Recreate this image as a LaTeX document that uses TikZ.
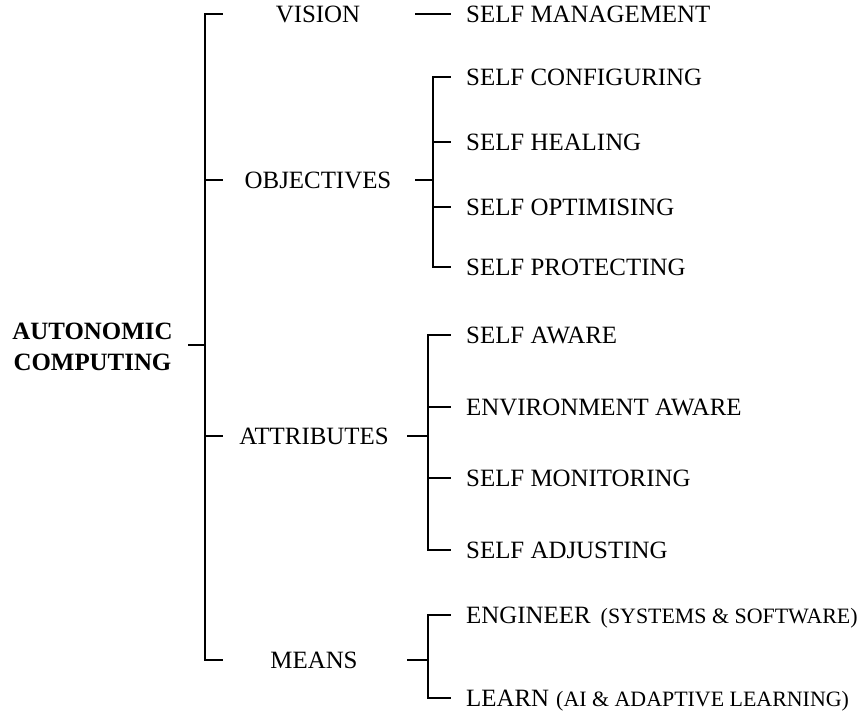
\documentclass[tikz,border=0pt]{standalone}
\usepackage{fontspec}
\setmainfont{Liberation Serif}
\begin{document}
\begin{tikzpicture}[x=1bp,y=-1bp,
  lbl/.style={anchor=base west, inner sep=0pt, font=\fontsize{25}{30}\selectfont},
  midlbl/.style={anchor=base, inner sep=0pt, font=\fontsize{25}{30}\selectfont},
  rootlbl/.style={anchor=base, inner sep=0pt, font=\fontsize{25}{30}\selectfont\bfseries},
  small/.style={font=\fontsize{22}{26}\selectfont},
  conn/.style={line width=1.2bp, line cap=rect},
  stub/.style={line width=1.8bp}]
\useasboundingbox (0,0) rectangle (865,712);

% root
\node[rootlbl] (root1) at (92.5,339.3) {AUTONOMIC};
\node[rootlbl] (root2) at (92.5,370.3) {COMPUTING};

% level 1
\node[midlbl] (vision) at (318,22.3) {VISION};
\node[midlbl] (objectives) at (318,188.3) {OBJECTIVES};
\node[midlbl] (attributes) at (314,444.3) {ATTRIBUTES};
\node[midlbl] (means) at (314,668.3) {MEANS};

% level 2
\node[lbl] (mgmt) at (466,22.3) {SELF MANAGEMENT};
\node[lbl] (conf) at (466,85.3) {SELF CONFIGURING};
\node[lbl] (heal) at (466,150.3) {SELF HEALING};
\node[lbl] (opt) at (466,215.3) {SELF OPTIMISING};
\node[lbl] (prot) at (466,275.3) {SELF PROTECTING};
\node[lbl] (aware) at (466,343.3) {SELF AWARE};
\node[lbl] (env) at (466,415.3) {ENVIRONMENT AWARE};
\node[lbl] (mon) at (466,486.3) {SELF MONITORING};
\node[lbl] (adj) at (466,558.3) {SELF ADJUSTING};
\node[lbl] (eng) at (466,623.3) {ENGINEER\hspace{10bp}{\fontsize{22}{26}\selectfont(SYSTEMS \& SOFTWARE)}};
\node[lbl] (learn) at (466,706.3) {LEARN\hspace{7bp}{\fontsize{22}{26}\selectfont(AI \& ADAPTIVE LEARNING)}};

% main bracket coordinates
\coordinate (mTop) at (205,14);
\coordinate (mObj) at (205,180);
\coordinate (mRoot) at (205,345);
\coordinate (mAtt) at (205,436);
\coordinate (mBot) at (205,660);
\coordinate (tV) at (222,14);
\coordinate (tO) at (222,180);
\coordinate (tA) at (222,436);
\coordinate (tM) at (222,660);
\coordinate (rS) at (188,345);

\draw[conn] (tV) -- (mTop) -- (mBot) -- (tM);
\draw[conn] (mObj) -- (tO);
\draw[conn] (mAtt) -- (tA);
\draw[stub] (rS) -- (mRoot);

% vision
\coordinate (vS) at (415,14);
\coordinate (vM) at (433,14);
\coordinate (vT) at (450,14);
\draw[stub] (vS) -- (vM);
\draw[conn] (vM) -- (vT);

% objectives bracket
\coordinate (oS) at (415,180);
\coordinate (oB) at (433,180);
\coordinate (oTop) at (433,77);
\coordinate (oBot) at (433,267);
\coordinate (oH) at (433,142);
\coordinate (oO) at (433,207);
\coordinate (tConf) at (450,77);
\coordinate (tHeal) at (450,142);
\coordinate (tOpt) at (450,207);
\coordinate (tProt) at (450,267);
\draw[stub] (oS) -- (oB);
\draw[conn] (tConf) -- (oTop) -- (oBot) -- (tProt);
\draw[conn] (oH) -- (tHeal);
\draw[conn] (oO) -- (tOpt);

% attributes bracket
\coordinate (aS) at (407,436);
\coordinate (aB) at (428,436);
\coordinate (aTop) at (428,335);
\coordinate (aBot) at (428,550);
\coordinate (aE) at (428,407);
\coordinate (aM) at (428,478);
\coordinate (tAware) at (450,335);
\coordinate (tEnv) at (450,407);
\coordinate (tMon) at (450,478);
\coordinate (tAdj) at (450,550);
\draw[stub] (aS) -- (aB);
\draw[conn] (tAware) -- (aTop) -- (aBot) -- (tAdj);
\draw[conn] (aE) -- (tEnv);
\draw[conn] (aM) -- (tMon);

% means bracket
\coordinate (meS) at (407,660);
\coordinate (meB) at (428,660);
\coordinate (meTop) at (428,615);
\coordinate (meBot) at (428,698);
\coordinate (tEng) at (450,615);
\coordinate (tLearn) at (450,698);
\draw[stub] (meS) -- (meB);
\draw[conn] (tEng) -- (meTop) -- (meBot) -- (tLearn);
\end{tikzpicture}
\end{document}
